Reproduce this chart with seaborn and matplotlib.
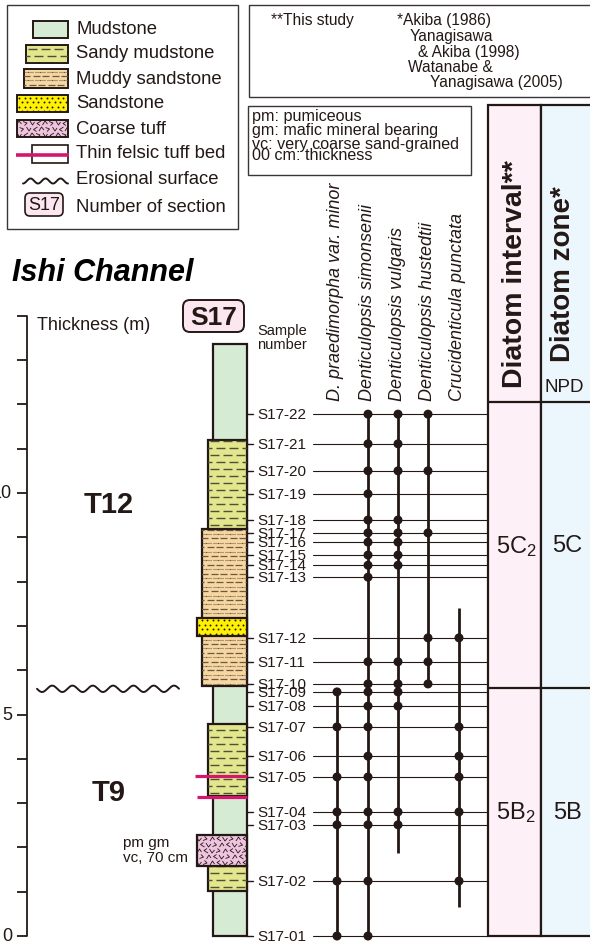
import numpy as np
import pandas as pd
import matplotlib
matplotlib.use('Agg')
import matplotlib.pyplot as plt
import seaborn as sns
from matplotlib.patches import Rectangle, FancyBboxPatch
from matplotlib.collections import LineCollection

sns.set_theme(style='white')
plt.rcParams['font.family'] = ['Liberation Sans', 'DejaVu Sans']
plt.rcParams['mathtext.fontset'] = 'custom'
plt.rcParams['mathtext.rm'] = 'Liberation Sans'
plt.rcParams['mathtext.it'] = 'Liberation Sans:italic'
plt.rcParams['mathtext.bf'] = 'Liberation Sans:bold'

# ---------------- data ----------------
sample_ids = ['S17-01', 'S17-02', 'S17-03', 'S17-04', 'S17-05', 'S17-06', 'S17-07',
              'S17-08', 'S17-09', 'S17-10', 'S17-11', 'S17-12', 'S17-13', 'S17-14',
              'S17-15', 'S17-16', 'S17-17', 'S17-18', 'S17-19', 'S17-20', 'S17-21', 'S17-22']
sample_height_m = [0.0, 1.24, 2.51, 2.80, 3.59, 4.06, 4.72, 5.19, 5.51, 5.69, 6.19,
                   6.73, 8.10, 8.37, 8.60, 8.89, 9.10, 9.39, 9.98, 10.50, 11.11, 11.78]

section_base_m = 0.0
section_top_m = 13.36
lith_type = ['Sandy mudstone', 'Coarse tuff', 'Sandy mudstone', 'Muddy sandstone',
             'Sandstone', 'Sandy mudstone']
lith_base_m = [1.02, 1.58, 3.16, 5.64, 6.77, 9.19]
lith_top_m = [1.58, 2.28, 4.79, 9.19, 7.18, 11.20]
tuff_bed_m = [3.61, 3.14]
erosional_surface_m = 5.58

species = ['D. praedimorpha var. minor', 'Denticulopsis simonsenii',
           'Denticulopsis vulgaris', 'Denticulopsis hustedtii', 'Crucidenticula punctata']
species_range_base_m = [0.0, 0.0, 1.87, 5.69, 0.65]
species_range_top_m = [5.51, 11.78, 11.78, 11.78, 7.40]
occ_praedimorpha = ['S17-01', 'S17-02', 'S17-03', 'S17-04', 'S17-05', 'S17-07', 'S17-09']
occ_simonsenii = ['S17-01', 'S17-02', 'S17-03', 'S17-04', 'S17-05', 'S17-06', 'S17-07',
                  'S17-08', 'S17-09', 'S17-10', 'S17-11', 'S17-13', 'S17-14', 'S17-15',
                  'S17-16', 'S17-17', 'S17-18', 'S17-19', 'S17-20', 'S17-21', 'S17-22']
occ_vulgaris = ['S17-03', 'S17-04', 'S17-08', 'S17-09', 'S17-10', 'S17-11', 'S17-14',
                'S17-15', 'S17-16', 'S17-17', 'S17-18', 'S17-20', 'S17-21', 'S17-22']
occ_hustedtii = ['S17-10', 'S17-11', 'S17-12', 'S17-17', 'S17-20', 'S17-22']
occ_punctata = ['S17-02', 'S17-04', 'S17-05', 'S17-06', 'S17-07', 'S17-12']
occurrences = [occ_praedimorpha, occ_simonsenii, occ_vulgaris, occ_hustedtii, occ_punctata]

zone_bounds_m = [0.0, 5.60, 12.05]
interval_labels = ['5B$_2$', '5C$_2$']
zone_labels = ['5B', '5C']
unit_labels = ['T9', 'T12']
unit_label_m = [3.25, 9.75]
thickness_ticks = list(range(0, 15))
thickness_labels = {0: '0', 5: '5', 10: '10'}

legend_items = ['Mudstone', 'Sandy mudstone', 'Muddy sandstone', 'Sandstone',
                'Coarse tuff', 'Thin felsic tuff bed', 'Erosional surface', 'Number of section']
ref_left = ['**This study']
ref_right = ['*Akiba (1986)', 'Yanagisawa', '& Akiba (1998)', 'Watanabe &', 'Yanagisawa (2005)']
abbrev = ['pm: pumiceous', 'gm: mafic mineral bearing', 'vc: very coarse sand-grained',
          '00 cm: thickness']

# ---------------- style ----------------
DARK = '#231815'
FILL = {'Mudstone': '#d5ebd4', 'Sandy mudstone': '#e2e68c', 'Muddy sandstone': '#f6d6a2',
        'Sandstone': '#fff100', 'Coarse tuff': '#efc4de'}
LEFT = {'Mudstone': 213, 'Sandy mudstone': 208, 'Muddy sandstone': 202,
        'Sandstone': 197, 'Coarse tuff': 197}
COL_RIGHT = 247
PINK = '#d6156f'
PX = 44.3           # pixels per metre
Y0 = 937            # pixel row of 0 m


def ym(p):
    return (Y0 - p) / PX


fig = plt.figure(figsize=(5.9, 9.45), dpi=100)
ax = fig.add_axes([0, 0, 1, 1])
ax.set_xlim(0, 590)
ax.set_ylim(ym(945), ym(0))
ax.axis('off')
hx = fig.add_axes([0, 0, 1, 1], sharex=None)
hx.set_xlim(0, 590)
hx.set_ylim(945, 0)
hx.axis('off')
hx.patch.set_alpha(0)


def texture(axis, kind, x0, x1, ya, yb, ky, clip):
    ylo, yhi = min(ya, yb), max(ya, yb)
    arts = []
    if kind == 'Sandy mudstone':
        segs = []
        y = ylo + 3.5 * ky
        r = 0
        while y < yhi:
            off = 0 if r % 2 == 0 else 6.5
            x = x0 + 1.5 - off
            while x < x1:
                segs.append([(x, y), (x + 9, y)])
                x += 13
            y += 7 * ky
            r += 1
        arts.append(LineCollection(segs, colors='#4f4f3a', linewidths=1.0))
    elif kind == 'Muddy sandstone':
        dots, dash = [], []
        y = ylo + 2.5 * ky
        r = 0
        while y < yhi:
            if r % 2 == 0:
                x = x0 + 1
                while x < x1:
                    dots.append([(x, y), (x + 1.2, y)])
                    x += 2.4
            else:
                x = x0 + 1 - (r % 4) * 2
                while x < x1:
                    dash.append([(x, y), (x + 7, y)])
                    x += 9.5
            y += 4.4 * ky
            r += 1
        arts.append(LineCollection(dots, colors='#6a5a40', linewidths=0.8))
        arts.append(LineCollection(dash, colors='#6a5a40', linewidths=0.9))
    elif kind == 'Sandstone':
        xs, ys = [], []
        y = ylo + 2.5 * ky
        r = 0
        while y < yhi:
            x = x0 + 2 + (2.5 if r % 2 else 0)
            while x < x1:
                xs.append(x)
                ys.append(y)
                x += 5.5
            y += 4.5 * ky
            r += 1
        ln, = axis.plot(xs, ys, ls='none', marker='o', ms=1.4, color=DARK, mew=0)
        ln.set_clip_path(clip)
    elif kind == 'Coarse tuff':
        segs = []
        y = ylo + 3 * ky
        r = 0
        shapes = [((-2.5, 2), (0, -2), (2.5, 1)), ((-2.5, -1.5), (1.5, 0), (-1, 2.5)),
                  ((-2, -2), (0.5, 2), (2.5, -1)), ((2.5, -2), (-1.5, 0.5), (1.5, 2.5))]
        while y < yhi + 3 * ky:
            x = x0 + 2 + (3 if r % 2 else 0)
            c = r
            while x < x1 + 3:
                a, b, d = shapes[c % 4]
                segs.append([(x + a[0], y + a[1] * ky), (x + b[0], y + b[1] * ky),
                             (x + d[0], y + d[1] * ky)])
                x += 6.5
                c += 1
            y += 6 * ky
            r += 1
        arts.append(LineCollection(segs, colors=DARK, linewidths=0.6))
    for a in arts:
        axis.add_collection(a)
        a.set_clip_path(clip)


def unit_box(axis, kind, x0, x1, ya, yb, ky, lw=1.6):
    rect = Rectangle((x0, min(ya, yb)), x1 - x0, abs(yb - ya), fc=FILL[kind],
                     ec=DARK, lw=lw, zorder=2)
    axis.add_patch(rect)
    texture(axis, kind, x0, x1, ya, yb, ky, rect)
    return rect


# ---------------- lithologic column ----------------
unit_box(ax, 'Mudstone', LEFT['Mudstone'], COL_RIGHT, section_base_m, section_top_m, 1 / PX)
for kind, b, t in zip(lith_type, lith_base_m, lith_top_m):
    unit_box(ax, kind, LEFT[kind], COL_RIGHT, b, t, 1 / PX)
for i, h in enumerate(tuff_bed_m):
    ax.plot([195 + 2 * i, COL_RIGHT], [h, h], color=PINK, lw=2.3, solid_capstyle='butt',
            zorder=4)

# erosional surface
xw = np.linspace(37, 179, 300)
ax.plot(xw, erosional_surface_m + (3.2 / PX) * np.sin(2 * np.pi * (xw - 37) / 20.3 + np.pi),
        color=DARK, lw=1.4)

# thickness scale
ax.plot([27, 27], [thickness_ticks[0], thickness_ticks[-1]], color=DARK, lw=1.3)
for t in thickness_ticks:
    ax.plot([17, 27], [t, t], color=DARK, lw=1.3, solid_capstyle='butt')
    if t in thickness_labels:
        ax.text(12, t, thickness_labels[t], ha='right', va='center', fontsize=13, color=DARK)

for lab, h in zip(unit_labels, unit_label_m):
    ax.text(109, h, lab, ha='center', va='center', fontsize=21, fontweight='bold', color=DARK)

# ---------------- samples ----------------
for sid, h in zip(sample_ids, sample_height_m):
    ax.plot([COL_RIGHT, 253], [h, h], color=DARK, lw=1.0)
    ax.plot([313, 488], [h, h], color=DARK, lw=0.8, zorder=1)
    ax.text(257, h, sid, ha='left', va='center', fontsize=11, color=DARK)

# ---------------- species ranges ----------------
species_x = [337, 368, 398, 428, 459]
h_of = dict(zip(sample_ids, sample_height_m))
rows = []
for sp, sx, occ in zip(species, species_x, occurrences):
    for sid in occ:
        rows.append({'species': sp, 'x': sx, 'height': h_of[sid]})
occ_df = pd.DataFrame(rows)
for sx, b, t in zip(species_x, species_range_base_m, species_range_top_m):
    ax.plot([sx, sx], [b, t], color=DARK, lw=2.0, solid_capstyle='butt', zorder=4)
sns.scatterplot(data=occ_df, x='x', y='height', ax=ax, color=DARK, s=42, edgecolor='none',
                legend=False, zorder=5)
ax.set_xlim(0, 590)
ax.set_ylim(ym(945), ym(0))
ax.axis('off')
for sp, sx in zip(species, species_x):
    ax.text(sx - 1, ym(401), sp, rotation=90, rotation_mode='anchor', ha='left',
            va='center', fontsize=13, fontstyle='italic', color=DARK)

# ---------------- diatom columns ----------------
col_top = ym(106)
ax.add_patch(Rectangle((488, 0), 53, col_top, fc='#fdf0f6', ec=DARK, lw=1.6, zorder=0))
ax.add_patch(Rectangle((541, 0), 60, col_top, fc='#ebf7fd', ec=DARK, lw=1.6, zorder=0))
for b in zone_bounds_m[1:]:
    ax.plot([488, 600], [b, b], color=DARK, lw=1.6, zorder=1)
for i in range(len(interval_labels)):
    mid = (zone_bounds_m[i] + zone_bounds_m[i + 1]) / 2
    ax.text(516, mid, interval_labels[i], ha='center', va='center', fontsize=17, color=DARK)
    ax.text(567, mid, zone_labels[i], ha='center', va='center', fontsize=17, color=DARK)
ax.text(515, ym(388), 'Diatom interval**', rotation=90, rotation_mode='anchor',
        ha='left', va='center', fontsize=20.5, fontweight='bold', color=DARK)
ax.text(563, ym(362), 'Diatom zone*', rotation=90, rotation_mode='anchor',
        ha='left', va='center', fontsize=20, fontweight='bold', color=DARK)
ax.text(564, ym(387), 'NPD', ha='center', va='center', fontsize=13.5, color=DARK)

# ---------------- header (pixel axes) ----------------
BOX = '#3c3535'
hx.add_patch(Rectangle((7, 6), 231, 224, fc='none', ec=BOX, lw=1.0))
sw = [('Mudstone', 33, 22, 39), ('Sandy mudstone', 26, 46, 64),
      ('Muddy sandstone', 24, 70, 89), ('Sandstone', 17, 96, 113),
      ('Coarse tuff', 17, 121, 138)]
for kind, x0, y0, y1 in sw:
    unit_box(hx, kind, x0, 68, y0, y1, 1.0, lw=1.4)
hx.add_patch(Rectangle((32, 146), 36, 18, fc='white', ec=DARK, lw=1.2))
hx.plot([16, 69], [156, 156], color=PINK, lw=2.6, solid_capstyle='butt')
xl = np.linspace(23, 68, 120)
hx.plot(xl, 182 + 2.5 * np.sin(2 * np.pi * (xl - 23) / 15 + np.pi / 2), color=DARK, lw=1.4)
hx.add_patch(FancyBboxPatch((28, 197), 32, 17, boxstyle='round,pad=3,rounding_size=5',
                            fc='#fce6ef', ec=DARK, lw=1.2))
hx.text(44, 206, 'S17', ha='center', va='center', fontsize=13, color=DARK)
for lab, y in zip(legend_items, [30, 54, 79, 104, 129, 154, 180, 207]):
    hx.text(76, y, lab, ha='left', va='center', fontsize=13.3, color=DARK)

hx.add_patch(Rectangle((249, 6), 345, 92, fc='none', ec=BOX, lw=1.0))
hx.text(271, 21, ref_left[0], ha='left', va='center', fontsize=11.2, color=DARK)
for lab, x, y in zip(ref_right, [397, 410, 418, 408, 430], [21, 36, 52, 67, 82]):
    hx.text(x, y, lab, ha='left', va='center', fontsize=11.2, color=DARK)

hx.add_patch(Rectangle((248, 107), 223, 69, fc='none', ec=BOX, lw=1.0))
for lab, y in zip(abbrev, [116, 131, 144, 156]):
    hx.text(252, y, lab, ha='left', va='center', fontsize=11.6, color=DARK)

hx.text(12, 273, 'Ishi Channel', ha='left', va='center', fontsize=22, fontweight='bold',
        fontstyle='italic', color='black')
hx.text(37, 325, 'Thickness (m)', ha='left', va='center', fontsize=13, color=DARK)
hx.add_patch(FancyBboxPatch((187, 305), 53, 24, boxstyle='round,pad=4,rounding_size=7',
                            fc='#fce6ef', ec=DARK, lw=1.4))
hx.text(213.5, 318, 'S17', ha='center', va='center', fontsize=19, fontweight='bold',
        color=DARK)
hx.text(257, 338, 'Sample\nnumber', ha='left', va='center', fontsize=10.5, linespacing=0.95,
        color=DARK)
hx.text(123, 843, 'pm gm', ha='left', va='center', fontsize=11, color=DARK)
hx.text(123, 858, 'vc, 70 cm', ha='left', va='center', fontsize=11, color=DARK)

fig.savefig('out.png', dpi=100)
